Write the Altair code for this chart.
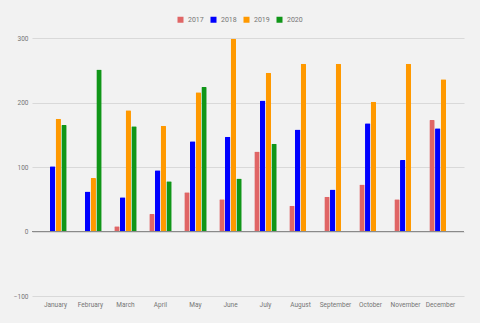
import altair as alt
import pandas as pd

months = ["January", "February", "March", "April", "May", "June",
          "July", "August", "September", "October", "November", "December"]
years = ["2017", "2018", "2019", "2020"]
v2017 = [None, None, 8, 27, 61, 50, 124, 40, 54, 73, 50, 173]
v2018 = [101, 62, 53, 95, 140, 147, 203, 158, 65, 168, 111, 160]
v2019 = [175, 83, 188, 164, 216, 299, 246, 260, 260, 201, 260, 236]
v2020 = [165, 251, 163, 78, 224, 82, 136, None, None, None, None, None]
colors = ["#e06666", "#0000ff", "#ff9900", "#109618"]

rows = []
for y, vals in zip(years, [v2017, v2018, v2019, v2020]):
    for m, v in zip(months, vals):
        if v is not None:
            rows.append({"month": m, "year": y, "value": v})
df = pd.DataFrame(rows)

font = "Roboto"
fs = 6.5
bars = alt.Chart(df).mark_bar(cornerRadiusEnd=1).encode(
    x=alt.X("month:N", sort=months,
            scale=alt.Scale(domain=months, paddingInner=0.36, paddingOuter=0.35),
            axis=alt.Axis(title=None, labelAngle=0, ticks=False, domain=False,
                          labelFontSize=fs, labelColor="#757575", labelFont=font,
                          labelPadding=5, grid=False)),
    xOffset=alt.XOffset("year:N", scale=alt.Scale(domain=years, paddingInner=0.06)),
    y=alt.Y("value:Q", scale=alt.Scale(domain=[-100, 300], nice=False),
            axis=alt.Axis(title=None, values=[-100, 0, 100, 200, 300], ticks=False,
                          domain=False, labelFontSize=fs, labelColor="#757575",
                          labelFont=font, labelPadding=4, gridColor="#d9d9d9")),
    color=alt.Color("year:N", scale=alt.Scale(domain=years, range=colors),
                    legend=alt.Legend(title=None, orient="none", direction="horizontal",
                                      legendX=145, legendY=-22, symbolType="square",
                                      symbolSize=36, symbolStrokeWidth=0,
                                      labelFontSize=7, labelColor="#757575", labelFont=font,
                                      columnPadding=6, labelOffset=4)),
)

zero = alt.Chart(pd.DataFrame({"z": [0]})).mark_rule(color="#8a8a8a", strokeWidth=1).encode(
    y=alt.Y("z:Q")
)

chart = alt.layer(bars, zero).properties(
    width=432, height=258,
    autosize=alt.AutoSizeParams(type="none"),
    padding={"left": 32, "top": 38, "right": 16, "bottom": 27},
    background="#f2f2f2",
).configure_view(stroke=None)

chart.save("out.html", embed_options={"renderer": "svg", "actions": False})
